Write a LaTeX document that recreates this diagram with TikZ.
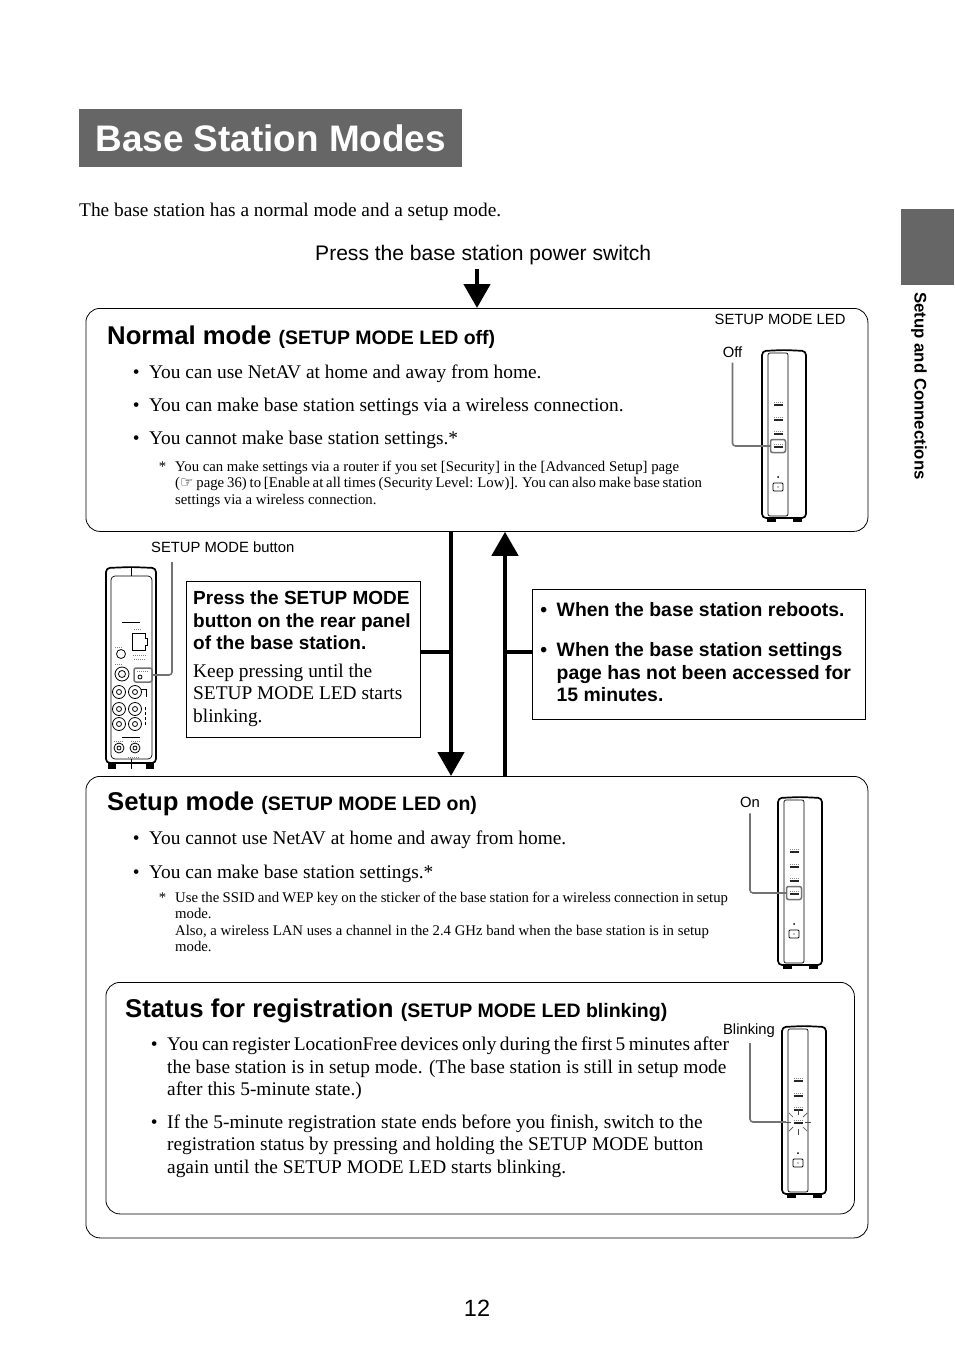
\documentclass[tikz,border=0pt]{standalone}
\usepackage{fontspec}
\setmainfont{Liberation Serif}
\setsansfont{Liberation Sans}
\newfontfamily\symfont{DejaVu Sans}
\usetikzlibrary{arrows.meta,calc}
\newcommand{\bulletmark}{\llap{\textbullet\hspace{9.5pt}}}
\tikzset{
  pagebase/.style={inner sep=0pt,anchor=base west},
  bodytext/.style={pagebase,font=\fontsize{19.36}{22.5}\selectfont},
  blocktext/.style={inner sep=0pt,anchor=north west,align=left,font=\fontsize{19.36}{22.5}\selectfont},
  notetext/.style={inner sep=0pt,anchor=north west,align=left,font=\fontsize{14.76}{16.6}\selectfont},
  headtext/.style={pagebase,font=\sffamily\bfseries\fontsize{25.7}{30}\selectfont},
  smalllabel/.style={inner sep=0pt,font=\sffamily\fontsize{14.8}{17}\selectfont},
  modebox/.style={draw,line width=.8pt,rounded corners=14pt,anchor=north west,inner sep=0pt},
  notebox/.style={draw,line width=.8pt,anchor=north west,inner sep=0pt},
  graytab/.style={fill=black!60,inner sep=0pt,anchor=north west},
  bigarrow/.style={line width=4.6pt,-{Triangle[width=26pt,length=24pt]}},
  branch/.style={line width=4.6pt},
  leader/.style={draw=black!55,line width=1.6pt,rounded corners=3pt},
  ledframe/.style={draw=black!55,line width=1.5pt,rounded corners=2pt,minimum width=15pt,minimum height=13pt,inner sep=0pt},
  tinymark/.style={line width=1.4pt,black!85},
  jack/.style={draw,line width=.8pt,circle,inner sep=0pt,minimum size=#1},
  pics/frontunit/.style={code={
    \draw[line width=1.7pt,rounded corners=4pt] (0,1) -- (22,0) -- (44,1) -- (44,168) -- (0,168) -- cycle;
    \draw[line width=.7pt,rounded corners=2pt] (6,3) rectangle (26,166);
    \fill (5,168) rectangle (14,172);
    \fill (31,168) rectangle (40,172);
    \foreach \yy in {54,69,83,96} {
      \draw[line width=1pt,black!45,densely dotted] (11.5,\yy-2) -- (20.5,\yy-2);
      \draw[tinymark] (11.5,\yy+1) -- (20.5,\yy+1);
    }
    \fill (16,127) circle (1pt);
    \draw[line width=.8pt,rounded corners=1pt] (11,133) rectangle (21,141);
    \fill (16,137) circle (.7pt);
    \coordinate (-led) at (16,96);
  }},
}
\begin{document}
\begin{tikzpicture}[x=1pt,y=-1pt,>=Stealth]
  \useasboundingbox (0,0) rectangle (954,1348);
  % header
  \node[graytab,minimum width=383pt,minimum height=58pt,text=white,font=\sffamily\bfseries\fontsize{36.9}{40}\selectfont] (title) at (79,109) {Base Station Modes};
  \node[graytab,minimum width=53pt,minimum height=76pt] (sidetab) at (901,209) {};
  \node[inner sep=0pt,rotate=-90,anchor=north west,font=\sffamily\bfseries\fontsize{16.8}{19}\selectfont] (sidetext) at (927,292) {Setup and Connections};
  \node[bodytext] (intro) at (79,216.5) {The base station has a normal mode and a setup mode.};
  \node[pagebase,font=\sffamily\fontsize{21.06}{24}\selectfont] (powerlabel) at (315,260) {Press the base station power switch};
  % outer boxes
  \node[modebox,minimum width=782pt,minimum height=223pt] (normalbox) at (85.5,308) {};
  \node[modebox,minimum width=782pt,minimum height=461.5pt] (setupbox) at (85.5,776) {};
  \node[modebox,minimum width=748.5pt,minimum height=231.5pt] (statusbox) at (105.5,982) {};
  % normal mode
  \node[headtext] (normalhead) at (107,344) {Normal mode \fontsize{19.5}{22}\selectfont(SETUP MODE LED off)};
  \node[bodytext] (normal1) at (149,378) {\bulletmark You can use NetAV at home and away from home.};
  \node[bodytext] (normal2) at (149,411) {\bulletmark You can make base station settings via a wireless connection.};
  \node[bodytext] (normal3) at (149,444) {\bulletmark You cannot make base station settings.*};
  \node[notetext] (normalnote) at (175,460.5) {\llap{*\hspace{9pt}}You can make settings via a router if you set [Security] in the [Advanced Setup] page\\
    {\spaceskip=2.85pt ({\symfont\fontsize{15}{15}\selectfont ☞} page 36) to [Enable at all times (Security Level: Low)]. You can also make base station}\\
    settings via a wireless connection.};
  \node[smalllabel,anchor=base west] (ledlabel) at (714.5,324) {SETUP MODE LED};
  \node[smalllabel] (offlabel) at (732.5,352) {Off};
  \pic (normalunit) at (762,350) {frontunit};
  \node[ledframe] (offled) at (normalunit-led) {};
  \draw[leader] (offlabel.south) ++(0,5) |- (offled.west);
  % rear unit
  \node[smalllabel,anchor=base west] (buttonlabel) at (151,552) {SETUP MODE button};
  \draw[line width=1.7pt,rounded corners=4pt] (106,568) -- (131,567) -- (156,568) -- (156,763) -- (106,763) -- cycle;
  \fill (108,763) rectangle (116,769);
  \fill (146,763) rectangle (154,769);
  \draw[line width=.8pt] (131,567) -- (131,576);
  \draw[line width=.8pt] (131,759) -- (131,769);
  \draw[line width=.7pt,rounded corners=4pt] (111,576) rectangle (152,759);
  \draw[line width=.9pt] (122,622) -- (140,622);
  \draw[line width=.9pt] (122,737) -- (140,737);
  \draw[line width=.8pt] (132,633) -- (145,633) -- (145,638) -- (147,638) -- (147,645) -- (145,645) -- (145,650) -- (132,650) -- cycle;
  \draw[line width=1pt,black!50,densely dotted] (134,629) -- (142,629);
  \draw[line width=1pt,black!50,densely dotted] (115,647) -- (123,647);
  \draw[line width=1pt,black!50,densely dotted] (133,655) -- (147,655);
  \draw[line width=1pt,black!50,densely dotted] (134,659) -- (146,659);
  \draw[line width=1pt,black!50,densely dotted] (115,664) -- (123,664);
  \node[jack=9pt] (rearjack) at (121,654) {};
  \node[jack=14pt] (antenna) at (122,674) {};
  \node[jack=7pt] at (antenna) {};
  \foreach \xx in {119,135} {
    \foreach \yy in {692,709,724} {
      \node[jack=13pt] (j\xx\yy) at (\xx,\yy) {};
      \node[jack=5pt] at (\xx,\yy) {};
    }
    \node[jack=10pt] (k\xx) at (\xx,748) {};
    \node[jack=4pt] at (\xx,748) {};
  }
  \draw[line width=.7pt] (141,689) -- (146,689) -- (146,697);
  \draw[line width=.7pt,densely dashed] (145,707) -- (145,725);
  \draw[line width=1pt,black!50,densely dotted] (114,741) -- (124,741);
  \draw[line width=1pt,black!50,densely dotted] (131,741) -- (141,741);
  \draw[line width=1pt,black!50,densely dotted] (128,757) -- (140,757);
  \node[ledframe,minimum width=18pt,minimum height=14pt] (buttonframe) at (143,675) {};
  \node[jack=4pt] at (140,677) {};
  \draw[line width=1pt,black!50,densely dotted] (137,671) -- (149,671);
  \draw[leader] (buttonframe.east) -| (172,562);
  % middle
  \node[notebox,minimum width=233.7pt,minimum height=155.7pt] (pressbox) at (186,581) {};
  \node[blocktext,font=\sffamily\bfseries\fontsize{19}{22.2}\selectfont] (presstitle) at (193,591) {Press the SETUP MODE\\button on the rear panel\\of the base station.};
  \node[blocktext] (pressbody) at (193,663.5) {Keep pressing until the\\SETUP MODE LED starts\\blinking.};
  \node[notebox,minimum width=332.7pt,minimum height=129.7pt] (rebootbox) at (532,589) {};
  \node[blocktext,font=\sffamily\bfseries\fontsize{19.4}{22.5}\selectfont] (reboot1) at (556.5,602) {\bulletmark When the base station reboots.};
  \node[blocktext,font=\sffamily\bfseries\fontsize{19.4}{22.5}\selectfont] (reboot2) at (556.5,642.5) {\bulletmark When the base station settings\\page has not been accessed for\\15 minutes.};
  \coordinate (downx) at (451,652);
  \coordinate (upx) at (505,652);
  \draw[bigarrow] (powerlabel.south -| 477,0) ++(0,4) -- (normalbox.north -| 477,0);
  \draw[bigarrow] (normalbox.south -| downx) -- (setupbox.north -| downx);
  \draw[bigarrow] (setupbox.north -| upx) -- (normalbox.south -| upx);
  \draw[branch] (pressbox.east |- downx) -- ([xshift=2.3pt]downx);
  \draw[branch] (rebootbox.west |- upx) -- ([xshift=-2.3pt]upx);
  % setup mode
  \node[headtext] (setuphead) at (107,810.5) {Setup mode \fontsize{19.5}{22}\selectfont(SETUP MODE LED on)};
  \node[bodytext] (setup1) at (149,844) {\bulletmark You cannot use NetAV at home and away from home.};
  \node[bodytext] (setup2) at (149,878) {\bulletmark You can make base station settings.*};
  \node[notetext] (setupnote) at (175,891.5) {\llap{*\hspace{9pt}}{\spaceskip=3.25pt Use the SSID and WEP key on the sticker of the base station for a wireless connection in setup}\\
    mode.\\
    Also, a wireless LAN uses a channel in the 2.4 GHz band when the base station is in setup\\
    mode.};
  \node[smalllabel] (onlabel) at (750,802) {On};
  \pic (setupunit) at (778,797) {frontunit};
  \node[ledframe] (onled) at (setupunit-led) {};
  \draw[leader] (onlabel.south) ++(0,6) |- (onled.west);
  % status
  \node[headtext] (statushead) at (125,1017) {Status for registration \fontsize{19.5}{22}\selectfont(SETUP MODE LED blinking)};
  \node[blocktext] (status1) at (167,1037) {\bulletmark {\spaceskip=3.45pt You can register LocationFree devices only during the first 5 minutes after}\\the base station is in setup mode. (The base station is still in setup mode\\after this 5-minute state.)};
  \node[blocktext] (status2) at (167,1114.5) {\bulletmark If the 5-minute registration state ends before you finish, switch to the\\registration status by pressing and holding the SETUP MODE button\\again until the SETUP MODE LED starts blinking.};
  \node[smalllabel] (blinklabel) at (749,1031) {Blinking};
  \pic (statusunit) at (782,1026) {frontunit};
  \foreach \ang in {0,45,...,315} {
    \draw[line width=.7pt,black!70] ($(statusunit-led)+(\ang:7)$) -- ($(statusunit-led)+(\ang:13)$);
  }
  \draw[leader] (blinklabel.south -| 750,0) ++(0,5) |- ($(statusunit-led)+(-12,0)$);
  % page number
  \node[inner sep=0pt,font=\sffamily\fontsize{23.5}{26}\selectfont] (pagenumber) at (477,1308) {12};
\end{tikzpicture}
\end{document}
